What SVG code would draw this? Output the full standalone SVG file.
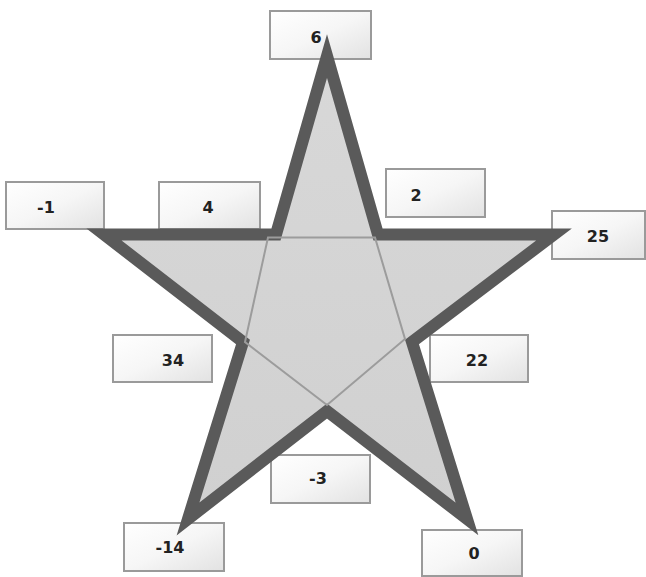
<svg xmlns="http://www.w3.org/2000/svg" width="646" height="577" viewBox="0 0 646 577">
<defs>
<linearGradient id="boxg" x1="0" y1="0" x2="1" y2="1">
<stop offset="0" stop-color="#ffffff"/>
<stop offset="0.5" stop-color="#f6f6f6"/>
<stop offset="1" stop-color="#e2e2e2"/>
</linearGradient>
<linearGradient id="starg" x1="0" y1="0" x2="0" y2="1">
<stop offset="0" stop-color="#d8d8d8"/>
<stop offset="1" stop-color="#d0d0d0"/>
</linearGradient>
</defs>
<style>
.box rect{fill:url(#boxg);stroke:#9a9a9a;stroke-width:2}
.box text{font-family:"DejaVu Sans","Liberation Sans",sans-serif;font-weight:bold;font-size:16px;fill:#222;text-anchor:middle;dominant-baseline:central}
</style>
<rect width="646" height="577" fill="#ffffff"/>
<g id="labels">
<g id="n6" class="box"><rect x="270" y="11" width="101" height="48"/><text x="316" y="37">6</text></g>
<g id="nm1" class="box"><rect x="6" y="182" width="98" height="47"/><text x="46" y="207">-1</text></g>
<g id="n4" class="box"><rect x="159" y="182" width="101" height="47"/><text x="208" y="207">4</text></g>
<g id="n2" class="box"><rect x="386" y="169" width="99" height="48"/><text x="416" y="195">2</text></g>
<g id="n25" class="box"><rect x="552" y="211" width="93" height="48"/><text x="598" y="236">25</text></g>
<g id="n34" class="box"><rect x="113" y="335" width="99" height="47"/><text x="173" y="360">34</text></g>
<g id="n22" class="box"><rect x="430" y="335" width="98" height="47"/><text x="477" y="360">22</text></g>
<g id="nm3" class="box"><rect x="271" y="455" width="99" height="48"/><text x="318" y="478">-3</text></g>
<g id="nm14" class="box"><rect x="124" y="523" width="100" height="48"/><text x="170" y="547">-14</text></g>
<g id="n0" class="box"><rect x="422" y="530" width="100" height="46"/><text x="474" y="553">0</text></g>
</g>
<g id="star">
<polygon points="327,56 378,234.5 554,234.5 412,342 467,519 327,411 188,519 243,342 104,234.5 276,234.5" fill="url(#starg)" stroke="#5a5a5a" stroke-width="12" stroke-linejoin="miter" stroke-miterlimit="6"/>
</g>
<g id="connectors">
<polygon points="268,237.5 375,237.5 405,339 327,405 245,342" fill="none" stroke="#9c9c9c" stroke-width="2"/>
</g>
</svg>
